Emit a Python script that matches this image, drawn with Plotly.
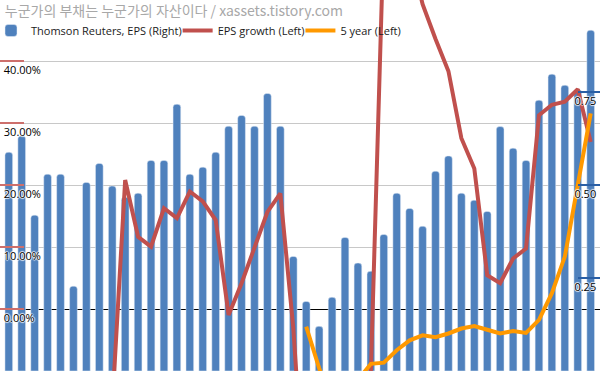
import plotly.graph_objects as go

periods = list(range(46))

eps_right = [0.588, 0.632, 0.419, 0.529, 0.529, 0.228, 0.507, 0.558, 0.497, 0.467,
             0.478, 0.566, 0.566, 0.717, 0.529, 0.548, 0.588, 0.658, 0.687, 0.658,
             0.746, 0.658, 0.308, 0.187, 0.120, 0.198, 0.359, 0.290, 0.268, 0.367,
             0.478, 0.437, 0.389, 0.537, 0.578, 0.478, 0.459, 0.429, 0.657, 0.599,
             0.566, 0.728, 0.798, 0.768, 0.757, 0.916]

eps_growth = [None, None, None, None, None, None, None, None, -0.156, 0.2085,
              0.117, 0.101, 0.163, 0.147, 0.190, 0.174, 0.144, -0.009, 0.042, 0.098,
              0.157, 0.187, -0.03, -0.34, -0.60, -0.30, -0.50, -0.40, -0.10, 0.61,
              0.70, 0.58, 0.492, 0.436, 0.384, 0.276, 0.227, 0.055, 0.042, 0.082,
              0.098, 0.313, 0.330, 0.335, 0.355, 0.270]

five_year = [None] * 23 + [-0.028, -0.095, -0.15, -0.13, -0.114, -0.088, -0.086,
                           -0.066, -0.050, -0.042, -0.045, -0.039, -0.031, -0.027, -0.033,
                           -0.039, -0.035, -0.038, -0.017, 0.026, 0.085, 0.198, 0.316]

left_ticks = [0.0, 0.1, 0.2, 0.3, 0.4]
right_ticks = [0.0, 0.25, 0.5, 0.75]
right_ticktext = ["", "0.25", "0.50", "0.75"]

halo = "1px 0 1px #fff, -1px 0 1px #fff, 0 1px 1px #fff, 0 -1px 1px #fff"

fig = go.Figure()
fig.add_trace(go.Bar(x=periods, y=eps_right, name="Thomson Reuters, EPS (Right)",
                     marker=dict(color="#4F81BD", cornerradius=3), yaxis="y"))
fig.add_trace(go.Scatter(x=periods, y=eps_growth, name="EPS growth (Left)", mode="lines",
                         line=dict(color="#C0504D", width=4), yaxis="y2"))
fig.add_trace(go.Scatter(x=periods, y=five_year, name="5 year (Left)", mode="lines",
                         line=dict(color="#FF9900", width=4), yaxis="y2"))

fig.update_layout(
    width=600, height=371,
    margin=dict(l=0, r=0, t=0, b=0, autoexpand=False),
    paper_bgcolor="white", plot_bgcolor="white",
    font=dict(family="Open Sans", size=11, color="#000"),
    bargap=0.405,
    showlegend=True,
    legend=dict(orientation="h", x=0, y=1 - 16 / 371, xanchor="left", yanchor="top",
                bgcolor="rgba(0,0,0,0)", font=dict(size=11, color="#1a1a1a"),
                itemwidth=30, tracegroupgap=0, indentation=-9),
    title=dict(text="누군가의 부채는 누군가의 자산이다 / xassets.tistory.com",
               x=0.008, xanchor="left", y=1 - 11 / 371, yanchor="middle",
               font=dict(family="Noto Sans CJK KR", size=14, color="#A8A8A8")),
    xaxis=dict(visible=False, range=[-0.68, 45.72], automargin=False),
    yaxis=dict(side="right", range=[0, 0.9973], showgrid=False, zeroline=False,
               automargin=False,
               tickvals=right_ticks, ticktext=right_ticktext,
               ticks="inside", ticklen=22, tickwidth=2, tickcolor="#2A5FA5",
               ticklabelposition="inside", ticklabelshift=9, ticklabelstandoff=-19,
               tickfont=dict(size=11, color="#000", shadow=halo)),
    yaxis2=dict(side="left", overlaying="y", range=[-0.0995, 0.4989],
                automargin=False,
                showgrid=True, gridcolor="#C8C8C8", gridwidth=1,
                zeroline=True, zerolinecolor="#000", zerolinewidth=1,
                tickvals=left_ticks, tickformat=".2%",
                ticks="inside", ticklen=24, tickwidth=2, tickcolor="#CD6F6C",
                ticklabelposition="inside", ticklabelshift=9, ticklabelstandoff=-21,
                tickfont=dict(size=11, color="#000", shadow=halo)),
)

fig.write_html("out.html", config={"displayModeBar": False},
               post_script="document.body.style.margin='0';")
